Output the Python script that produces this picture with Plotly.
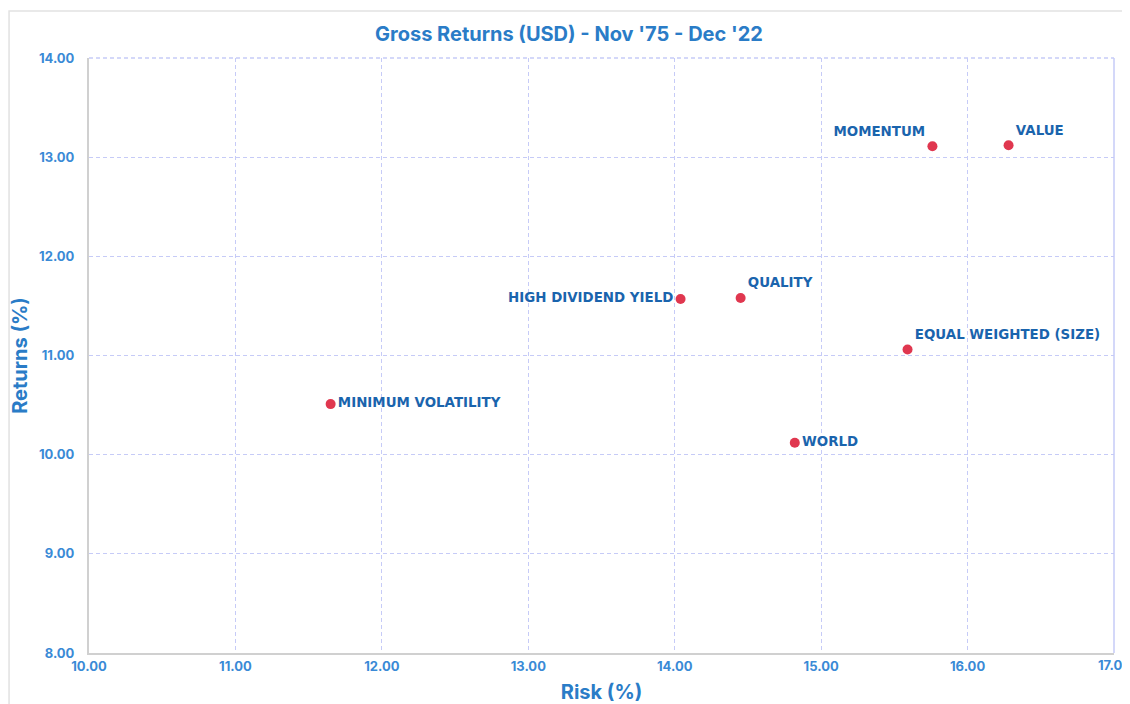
import plotly.graph_objects as go

names = ["MOMENTUM", "VALUE", "HIGH DIVIDEND YIELD", "QUALITY",
         "EQUAL WEIGHTED (SIZE)", "MINIMUM VOLATILITY", "WORLD"]
risk = [15.76, 16.28, 14.04, 14.45, 15.59, 11.65, 14.82]
returns = [13.11, 13.12, 11.57, 11.58, 11.06, 10.51, 10.12]
positions = ["top left", "top right", "middle left", "top right",
             "top right", "middle right", "middle right"]
x_ticks = [10, 11, 12, 13, 14, 15, 16]
x_last_tick = 17

label_color = "#1a64ad"
tick_color = "#3a8ad6"
title_color = "#2a7cc7"
grid_color = "#c6cbf7"
tick_font = dict(family="Inter, Roboto, Arial", size=13, color=tick_color, weight="bold")

fig = go.Figure()
fig.add_trace(go.Scatter(
    x=risk, y=returns, mode="markers+text",
    text=["<b>" + n + "</b>" for n in names],
    textposition=positions,
    textfont=dict(family="DejaVu Sans, Arial", size=13.4, color=label_color),
    marker=dict(color="#e0374f", size=10),
    hoverinfo="x+y+text", showlegend=False,
))

fig.add_shape(type="rect", xref="paper", yref="paper",
              x0=-0.078, x1=1.2, y0=-0.2, y1=1.079,
              line=dict(color="#e2e2e2", width=1.5), layer="below")

fig.update_layout(
    width=1122, height=696,
    margin=dict(l=81, r=16, t=50, b=51),
    paper_bgcolor="white", plot_bgcolor="white",
    title=dict(text="<b>Gross Returns (USD) - Nov '75 - Dec '22</b>",
               x=0.5, xanchor="center", y=0.963, yanchor="middle",
               font=dict(family="Inter, Roboto, Arial", size=20, color=title_color)),
    xaxis=dict(range=[10, 17], tickvals=x_ticks, tickformat=".2f", automargin=False,
               showgrid=True, gridcolor=grid_color, griddash="4px,3px",
               zeroline=False, showline=True, linecolor="#d0d0d0", linewidth=2,
               mirror=False, ticks="",
               tickfont=tick_font,
               title=dict(text="<b>Risk (%)</b>", standoff=12,
                          font=dict(family="Inter, Roboto, Arial", size=20, color=title_color))),
    yaxis=dict(range=[8, 14], dtick=1, tickformat=".2f", automargin=True,
               showgrid=True, gridcolor=grid_color, griddash="4px,3px",
               zeroline=False, showline=True, linecolor="#d0d0d0", linewidth=2,
               ticks="", ticklabelstandoff=10,
               tickfont=tick_font,
               title=dict(text="<b>Returns (%)</b>", standoff=6,
                          font=dict(family="Inter, Roboto, Arial", size=20, color=title_color))),
)

fig.add_annotation(x=x_last_tick, xref="x", y=0, yref="paper", yanchor="top",
                   xanchor="center", yshift=-2, showarrow=False,
                   text=f"{x_last_tick:.2f}", font=tick_font)

fig.add_shape(type="line", xref="paper", yref="paper", x0=1, x1=1, y0=0, y1=1,
              line=dict(color=grid_color, width=1.5))
fig.add_shape(type="line", xref="paper", yref="paper", x0=0, x1=1, y0=1, y1=1,
              line=dict(color=grid_color, width=1.5, dash="4px,3px"))

fig.write_html("out.html")
